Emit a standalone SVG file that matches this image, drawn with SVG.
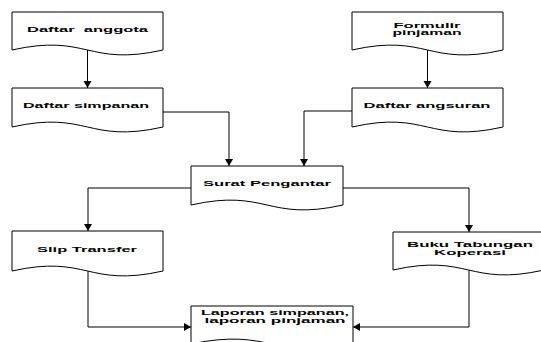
<svg xmlns="http://www.w3.org/2000/svg" width="541" height="342" viewBox="0 0 541 342">
<style>
.doc{fill:#fff;stroke:#000;stroke-width:1}
.t{font-family:"Liberation Sans",Arial,sans-serif;font-weight:bold;font-size:8px;fill:#000;text-anchor:middle}
.c{fill:none;stroke:#000;stroke-width:1}
</style>
<defs>
<marker id="ah" markerUnits="userSpaceOnUse" markerWidth="10" markerHeight="10" refX="7" refY="4" orient="auto">
<path d="M0,0 L7,4 L0,8 Z" fill="#000"/>
</marker>
</defs>
<g id="connectors">
<path class="c" d="M87.5,50 V88" marker-end="url(#ah)"/>
<path class="c" d="M427.5,50 V88" marker-end="url(#ah)"/>
<path class="c" d="M163,112 H229 V166" marker-end="url(#ah)"/>
<path class="c" d="M352,111 H304 V166" marker-end="url(#ah)"/>
<path class="c" d="M191,188 H88 V231" marker-end="url(#ah)"/>
<path class="c" d="M343,188 H469 V232" marker-end="url(#ah)"/>
<path class="c" d="M88,271 V327 H191" marker-end="url(#ah)"/>
<path class="c" d="M469,270 V327 H353" marker-end="url(#ah)"/>
</g>
<g id="daftar-anggota">
<path class="doc" d="M12,12 H163 V50 C87.5,67 87.5,33 12,50 Z"/>
<text class="t" x="87.5" y="32" textLength="121" lengthAdjust="spacingAndGlyphs" xml:space="preserve">Daftar  anggota</text>
</g>
<g id="formulir-pinjaman">
<path class="doc" d="M352,12 H503 V50 C427.5,67 427.5,33 352,50 Z"/>
<text class="t" x="427" y="27.5" textLength="67" lengthAdjust="spacingAndGlyphs">Formulir</text>
<text class="t" x="427" y="35" textLength="69" lengthAdjust="spacingAndGlyphs">pinjaman</text>
</g>
<g id="daftar-simpanan">
<path class="doc" d="M12,88 H163 V127 C87.5,144 87.5,110 12,127 Z"/>
<text class="t" x="86" y="108" textLength="126" lengthAdjust="spacingAndGlyphs">Daftar simpanan</text>
</g>
<g id="daftar-angsuran">
<path class="doc" d="M352,88 H503 V127 C427.5,144 427.5,110 352,127 Z"/>
<text class="t" x="427" y="108" textLength="127" lengthAdjust="spacingAndGlyphs">Daftar angsuran</text>
</g>
<g id="surat-pengantar">
<path class="doc" d="M191,166 H343 V205 C267,222 267,188 191,205 Z"/>
<text class="t" x="267" y="186" textLength="128" lengthAdjust="spacingAndGlyphs">Surat Pengantar</text>
</g>
<g id="slip-transfer">
<path class="doc" d="M12,231 H163 V271 C87.5,288 87.5,254 12,271 Z"/>
<text class="t" x="87" y="252" textLength="100" lengthAdjust="spacingAndGlyphs">Slip Transfer</text>
</g>
<g id="buku-tabungan">
<path class="doc" d="M393,232 H544 V270 C468.5,287 468.5,253 393,270 Z"/>
<text class="t" x="470" y="247" textLength="126" lengthAdjust="spacingAndGlyphs">Buku Tabungan</text>
<text class="t" x="470" y="254.5" textLength="72" lengthAdjust="spacingAndGlyphs">Koperasi</text>
</g>
<g id="laporan">
<path class="doc" d="M191,306 H353 V344 C272,361 272,327 191,344 Z"/>
<text class="t" x="275" y="314.5" textLength="148" lengthAdjust="spacingAndGlyphs">Laporan simpanan,</text>
<text class="t" x="275" y="322.5" textLength="141" lengthAdjust="spacingAndGlyphs">laporan pinjaman</text>
</g>
</svg>
